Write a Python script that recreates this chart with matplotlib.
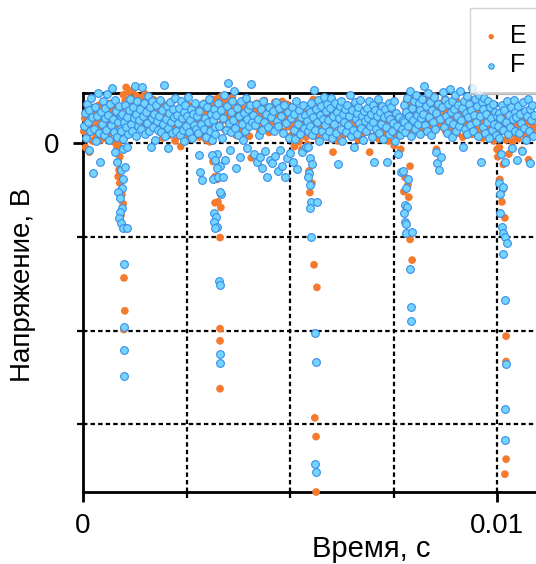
import numpy as np
import matplotlib
matplotlib.use('Agg')
import matplotlib.pyplot as plt

plt.rcParams['font.family'] = ['Liberation Sans', 'DejaVu Sans']

# ---------------- data ----------------
series_names = ['E', 'F']
x_label = 'Время, с'
y_label = 'Напряжение, В'
x_tick_values = [0.0, 0.01]
x_tick_labels = ['0', '0.01']
x_minor_values = [0.0025, 0.005, 0.0075]
y_tick_values = [0.0]
y_tick_labels = ['0']
y_minor_values = [-3.0, -2.0, -1.0]

# oscilloscope sample window for the noisy band (ms)
band_t_start_ms = 0.02
band_t_stop_ms = 10.90

E_band = [
    0.12, 0.26, -0.05, 0.33, 0.08, 0.21, -0.10, 0.38, 0.15, 0.02, 0.29, 0.18, 0.35, 0.06, 0.24, 0.11, 0.40, 0.19, 0.03, 0.27,
    0.14, 0.31, 0.22, 0.05, 0.37, 0.17, 0.26, 0.09, 0.42, 0.20, 0.33, 0.12, 0.01, 0.28, 0.36, 0.07, 0.19, -0.02, 0.24, 0.15,
    0.25, 0.38, 0.51, 0.30, 0.45, 0.59, 0.22, 0.41, 0.54, 0.33, 0.47, 0.28, 0.56, 0.36, 0.43, 0.19, 0.50, 0.31, 0.39, 0.46,
    0.34, 0.48, 0.21, 0.40, 0.29, 0.52, 0.17, 0.37, 0.25, 0.44, 0.13, 0.31, 0.39, 0.22, 0.46, 0.27, 0.35, 0.18, 0.42, 0.30,
    0.23, 0.11, 0.36, 0.28, 0.05, 0.41, 0.19, 0.32, 0.14, 0.26, 0.38, 0.08, 0.30, 0.21, 0.44, 0.16, 0.34, 0.02, 0.27, 0.12,
    0.20, 0.33, 0.09, -0.04, 0.27, 0.15, 0.38, 0.06, 0.24, 0.31, 0.13, 0.40, 0.18, 0.29, 0.04, 0.35, 0.22, 0.10, 0.26, 0.17,
    0.14, 0.30, 0.22, 0.06, 0.37, 0.18, 0.27, 0.11, 0.42, 0.24, 0.03, 0.33, 0.16, 0.28, 0.01, 0.39, 0.21, 0.46, 0.12, 0.35,
    0.40, 0.28, 0.47, 0.35, 0.19, 0.43, 0.31, 0.50, 0.24, 0.38, 0.14, 0.45, 0.33, 0.26, 0.41, 0.12, 0.36, 0.22, 0.48, 0.30,
    0.17, 0.34, 0.08, 0.27, 0.39, 0.13, 0.30, 0.22, 0.44, 0.05, 0.25, 0.36, 0.11, 0.32, 0.19, 0.42, 0.07, 0.28, -0.16, 0.24,
    0.26, 0.37, 0.18, 0.31, 0.42, 0.22, 0.34, 0.13, 0.28, 0.40, 0.20, 0.35, 0.45, 0.16, 0.30, 0.38, 0.24, 0.11, 0.33, 0.27,
    0.36, 0.21, 0.29, 0.43, 0.15, 0.32, 0.25, 0.39, 0.19, 0.34, 0.27, 0.44, 0.12, 0.30, 0.37, 0.23, 0.41, 0.17, 0.28, 0.35,
    0.20, 0.08, 0.31, 0.14, -0.04, 0.26, 0.35, 0.10, 0.22, 0.01, 0.29, 0.17, -0.07, 0.24, 0.12, 0.33, 0.06, 0.19, -0.02, 0.15,
    0.27, 0.13, 0.38, 0.21, 0.46, 0.09, 0.30, 0.18, 0.35, 0.05, 0.25, 0.41, 0.15, 0.32, 0.22, 0.10, 0.36, 0.19, 0.28, 0.07,
    0.16, 0.31, 0.05, 0.24, 0.37, -0.10, 0.20, 0.28, 0.11, 0.34, 0.02, 0.26, 0.40, 0.14, 0.23, 0.33, 0.08, 0.19, 0.29, 0.12,
    0.22, 0.35, 0.10, 0.28, 0.17, 0.39, 0.06, 0.25, 0.32, 0.14, 0.21, 0.37, 0.03, 0.30, 0.18, 0.26, 0.09, 0.34, 0.15, 0.24,
    0.31, 0.12, 0.25, 0.36, -0.10, 0.19, 0.28, 0.07, 0.33, 0.16, 0.23, 0.40, 0.11, 0.29, 0.04, 0.21, 0.35, 0.14, 0.26, 0.18,
    0.09, 0.24, 0.15, 0.32, 0.02, 0.20, 0.27, 0.11, 0.35, 0.17, -0.03, 0.22, 0.30, 0.06, 0.19, 0.13, 0.26, -0.07, 0.10, 0.21,
    0.28, 0.19, 0.37, 0.44, 0.23, 0.33, 0.14, 0.41, 0.26, 0.48, 0.31, 0.20, 0.39, 0.12, 0.35, 0.25, 0.45, 0.17, 0.30, 0.38,
    0.22, 0.40, 0.15, 0.33, 0.46, 0.27, 0.11, 0.36, 0.24, 0.43, 0.18, 0.30, 0.50, 0.13, 0.38, -0.07, 0.25, 0.34, 0.20, 0.42,
    0.29, 0.17, 0.39, 0.25, 0.47, 0.12, 0.33, 0.43, 0.21, 0.36, 0.28, 0.15, 0.41, 0.24, 0.31, 0.19, 0.45, 0.10, 0.35, 0.27,
    0.18, 0.34, 0.26, 0.06, 0.39, 0.22, 0.30, 0.13, 0.37, 0.24, 0.44, 0.16, 0.28, 0.09, 0.33, 0.21, 0.40, 0.14, 0.25, 0.31,
    0.11, 0.27, 0.35, 0.20, 0.05, 0.31, 0.17, 0.38, 0.24, 0.13, 0.29, 0.08, 0.34, 0.21, 0.16, 0.30, 0.02, 0.25, 0.18, 0.12,
    0.06, 0.19, -0.05, 0.25, 0.12, 0.30, -0.23, 0.16, 0.22, 0.03, 0.28, 0.10, -0.12, 0.20, 0.14, 0.26, 0.01, 0.18, 0.24, 0.08,
    0.15, 0.27, 0.04, 0.21, 0.33, 0.11, -0.08, 0.24, 0.18, 0.30, 0.07, 0.22, 0.13, -0.18, 0.26, 0.35, 0.09, 0.19, 0.28, 0.14,
]

F_band = [
    0.18, 0.32, 0.05, 0.41, 0.22, -0.08, 0.35, 0.12, 0.48, 0.27, -0.32, 0.15, 0.38, 0.02, 0.29, 0.53, 0.10, -0.21, 0.33, 0.20,
    0.44, 0.08, 0.26, 0.37, 0.14, 0.52, 0.30, 0.03, 0.41, 0.19, 0.58, 0.25, 0.11, 0.46, 0.34, 0.06, 0.22, 0.39, 0.15, 0.28,
    0.12, 0.31, 0.04, 0.22, 0.40, 0.17, 0.27, 0.09, 0.35, 0.47, 0.20, 0.13, 0.38, 0.26, 0.60, 0.07, 0.31, 0.44, 0.18, 0.24,
    0.36, 0.15, 0.59, 0.28, 0.42, 0.09, 0.33, 0.21, 0.50, 0.12, 0.38, -0.05, 0.26, 0.45, 0.17, 0.31, 0.03, 0.40, 0.23, 0.14,
    0.29, 0.46, 0.11, 0.35, 0.20, 0.62, 0.07, 0.25, 0.39, -0.06, 0.16, 0.32, 0.43, 0.22, 0.10, 0.36, 0.27, 0.48, 0.13, 0.30,
    0.21, 0.37, 0.08, 0.45, 0.26, 0.14, 0.33, 0.02, 0.40, 0.18, 0.29, 0.49, 0.11, 0.24, 0.36, 0.05, 0.31, 0.19, 0.42, 0.15,
    0.28, 0.10, -0.13, 0.34, -0.31, 0.20, -0.40, 0.41, 0.15, 0.26, 0.06, 0.38, 0.22, 0.47, 0.12, 0.31, 0.03, 0.24, 0.36, 0.17,
    0.09, 0.30, -0.12, 0.42, 0.18, -0.25, 0.35, 0.05, 0.26, 0.51, -0.18, 0.14, 0.39, 0.64, 0.21, -0.08, 0.33, 0.11, 0.45, 0.24,
    0.55, 0.16, -0.27, 0.37, 0.08, 0.28, -0.15, 0.44, 0.20, 0.03, 0.32, 0.12, 0.48, 0.25, -0.06, 0.36, 0.18, 0.40, 0.63, 0.22,
    0.30, -0.12, 0.19, 0.41, -0.20, 0.25, 0.08, -0.15, 0.36, 0.14, -0.27, 0.45, 0.22, -0.09, 0.31, -0.36, 0.17, 0.38, -0.18, 0.27,
    -0.22, 0.34, 0.12, -0.14, 0.43, 0.23, -0.30, 0.18, 0.37, -0.08, 0.28, -0.25, 0.10, 0.40, -0.37, 0.21, -0.16, 0.33, 0.05, -0.11,
    0.26, 0.38, -0.20, 0.14, 0.31, 0.04, 0.44, -0.28, 0.20, 0.35, 0.09, 0.27, -0.10, 0.40, 0.16, 0.30, -0.05, 0.23, 0.12, 0.36,
    0.33, 0.18, 0.42, 0.08, 0.27, 0.56, 0.14, 0.36, 0.22, 0.46, 0.02, 0.30, 0.39, 0.12, 0.25, 0.49, 0.19, 0.34, 0.07, 0.41,
    0.24, 0.13, 0.37, 0.48, 0.05, 0.29, 0.20, 0.42, 0.10, 0.33, -0.23, 0.26, 0.39, 0.15, 0.45, 0.02, 0.31, 0.22, 0.36, 0.11,
    0.40, 0.19, 0.28, 0.51, 0.07, 0.35, 0.14, -0.05, 0.43, 0.25, 0.32, 0.09, 0.38, 0.21, 0.46, 0.16, 0.29, 0.03, 0.34, 0.23,
    0.12, 0.37, 0.26, 0.44, 0.18, 0.31, 0.06, 0.40, 0.22, -0.21, 0.35, 0.15, 0.28, 0.47, 0.10, 0.33, 0.20, 0.39, 0.04, 0.27,
    0.36, 0.17, -0.21, 0.30, 0.42, 0.09, 0.25, 0.38, 0.13, 0.21, 0.45, 0.02, 0.32, 0.18, -0.12, 0.27, 0.08, -0.31, 0.15, 0.24,
    0.22, 0.40, 0.11, 0.33, 0.48, 0.18, 0.29, 0.55, 0.07, 0.37, 0.24, 0.44, 0.15, 0.51, 0.30, 0.20, 0.42, 0.09, 0.35, 0.26,
    0.47, 0.31, 0.60, 0.19, 0.39, 0.12, 0.53, 0.27, 0.43, 0.08, 0.35, 0.22, 0.49, 0.15, -0.10, 0.32, -0.22, 0.41, -0.29, 0.25,
    -0.15, 0.38, 0.54, 0.17, 0.46, 0.29, 0.10, 0.41, 0.23, 0.57, 0.33, 0.06, 0.44, 0.20, 0.36, 0.51, 0.13, 0.28, 0.40, 0.18,
    0.55, 0.24, 0.37, -0.04, 0.45, 0.15, 0.32, 0.50, 0.09, 0.27, 0.41, 0.19, 0.35, 0.58, 0.12, 0.30, 0.47, 0.22, 0.39, 0.07,
    0.51, 0.28, -0.21, 0.43, 0.17, 0.36, 0.48, 0.10, 0.31, 0.22, 0.45, 0.05, 0.38, 0.26, 0.14, 0.41, 0.20, 0.33, 0.08, 0.29,
    0.18, 0.32, 0.05, 0.26, -0.12, 0.40, 0.14, 0.35, -0.20, 0.22, 0.44, 0.09, 0.30, 0.17, 0.38, -0.06, 0.25, 0.46, 0.12, 0.33,
    0.27, -0.18, 0.39, 0.10, 0.31, 0.21, -0.09, 0.43, 0.16, 0.34, 0.03, 0.28, 0.47, 0.13, 0.36, -0.22, 0.24, 0.40, 0.07, 0.30,
]

# samples inside the five voltage dips (time in ms, voltage)
E_dip_t_ms = [0.82, 0.89, 0.85, 0.87, 0.85, 0.89, 0.94, 0.97, 0.92, 1.01, 0.99, 1.01, 0.99,
              3.14, 3.19, 3.24, 3.26, 3.19, 3.33, 3.31, 3.31, 3.31, 3.31,
              5.39, 5.46, 5.53, 5.48, 5.58, 5.65, 5.60, 5.63, 5.63,
              7.90, 7.78, 7.85, 7.75, 7.87, 7.90, 7.95,
              10.00, 10.02, 10.07, 10.14, 10.12, 10.19, 10.22, 10.22, 10.22, 10.19]
E_dip_y = [-0.04, -0.15, -0.20, -0.29, -0.36, -0.43, -0.55, -0.65, -0.77, -0.90, -1.44, -1.79, -1.99,
           -0.20, -0.36, -0.39, -0.63, -0.64, -0.69, -1.01, -1.98, -2.11, -2.62,
           -0.07, -0.30, -0.43, -0.53, -1.30, -1.54, -2.93, -3.13, -3.72,
           -0.25, -0.37, -0.45, -0.52, -0.58, -1.03, -1.25,
           -0.07, -0.15, -0.39, -0.50, -0.63, -0.80, -2.06, -2.33, -3.37, -3.53]

F_dip_t_ms = [0.77, 0.97, 1.06, 0.82, 0.92, 1.01, 0.97, 0.94, 0.85, 0.89, 0.94, 0.89, 0.87, 0.92, 0.97, 1.06, 0.99, 0.99, 0.99, 0.99,
              3.12, 3.19, 3.24, 3.14, 3.26, 3.38, 3.33, 3.31, 3.16, 3.21, 3.16, 3.24, 3.19, 3.29, 3.31, 3.31, 3.31,
              5.43, 5.48, 5.53, 5.46, 5.43, 5.48, 5.51, 5.65, 5.48, 5.51, 5.60, 5.63, 5.60, 5.63,
              7.73, 7.85, 7.80, 7.78, 7.83, 7.75, 7.78, 7.80, 7.80, 7.95, 7.90, 7.92, 7.92,
              10.05, 10.14, 10.07, 10.07, 10.12, 10.14, 10.19, 10.24, 10.14, 10.19, 10.22, 10.19, 10.19]
F_dip_y = [-0.10, -0.07, -0.05, -0.21, -0.29, -0.26, -0.39, -0.48, -0.52, -0.59, -0.69, -0.74, -0.80, -0.85, -0.91, -0.91, -1.29, -1.96, -2.21, -2.48,
           -0.13, -0.18, -0.27, -0.39, -0.36, -0.37, -0.55, -0.52, -0.75, -0.79, -0.84, -0.90, -0.91, -1.47, -1.52, -2.25, -2.35,
           -0.04, -0.16, -0.23, -0.32, -0.37, -0.45, -0.63, -0.63, -0.69, -1.00, -2.03, -2.33, -3.42, -3.51,
           -0.30, -0.39, -0.48, -0.66, -0.68, -0.75, -0.84, -0.87, -0.96, -0.95, -1.34, -1.75, -1.90,
           -0.43, -0.47, -0.55, -0.75, -0.90, -0.96, -1.00, -1.07, -1.19, -1.67, -2.36, -2.84, -3.17]

# ---------------- figure ----------------
W, H = 536, 564
fig = plt.figure(figsize=(W / 100, H / 100), dpi=100)
fig.patch.set_facecolor('white')
ax = fig.add_axes([83 / W, 72 / H, 455.4 / W, 399 / H])

ms = 1e-3
E_t = np.concatenate([np.linspace(band_t_start_ms, band_t_stop_ms, len(E_band)), E_dip_t_ms]) * ms
E_y = np.concatenate([E_band, E_dip_y])
F_t = np.concatenate([np.linspace(band_t_start_ms, band_t_stop_ms, len(F_band)), F_dip_t_ms]) * ms
F_y = np.concatenate([F_band, F_dip_y])

orange = '#F57A2E'
blue_face = '#72D4FF'
blue_edge = '#3A8DE6'

hE = ax.scatter(E_t, E_y, s=31, color=orange, edgecolors='none', zorder=3, clip_on=False,
                label=series_names[0])
hF = ax.scatter(F_t, F_y, s=31, facecolors=blue_face, edgecolors=blue_edge, linewidths=0.8,
                zorder=4, clip_on=False, label=series_names[1])

ax.set_xlim(0, 0.011)
ax.set_ylim(-3.72, 0.53)

ax.set_xticks(x_tick_values)
ax.set_xticklabels(x_tick_labels)
ax.set_xticks(x_minor_values, minor=True)
ax.set_yticks(y_tick_values)
ax.set_yticklabels(y_tick_labels)
ax.set_yticks(y_minor_values, minor=True)

ax.grid(True, which='both', color='black', linestyle=(0, (2, 1.4)), linewidth=1.6, zorder=1)
ax.set_axisbelow(True)

for side in ['left', 'bottom', 'top']:
    ax.spines[side].set_linewidth(2.0)
    ax.spines[side].set_color('black')
ax.spines['right'].set_visible(False)

ax.tick_params(which='major', direction='out', length=7, width=2, labelsize=20, pad=8,
               colors='black')
ax.tick_params(which='minor', direction='out', length=4, width=1.6)
ax.tick_params(axis='y', which='major', pad=10)

fig.text(371 / W, 1 - 557 / H, x_label, fontsize=21, ha='center', va='baseline')
fig.text(23 / W, 1 - 285 / H, y_label, fontsize=20, ha='center', va='center', rotation=90)

leg = fig.legend(handles=[hE, hF], labels=series_names, loc='upper left',
                 bbox_to_anchor=(470 / W, 1 - 8 / H), bbox_transform=fig.transFigure,
                 fontsize=18, frameon=True, fancybox=False, edgecolor='#c8c8c8',
                 borderpad=0.65, handlelength=0.4, handletextpad=0.55, labelspacing=0.2,
                 markerscale=0.7, borderaxespad=0)
leg.get_frame().set_linewidth(1.0)

fig.savefig('out.png', dpi=100, facecolor='white')
